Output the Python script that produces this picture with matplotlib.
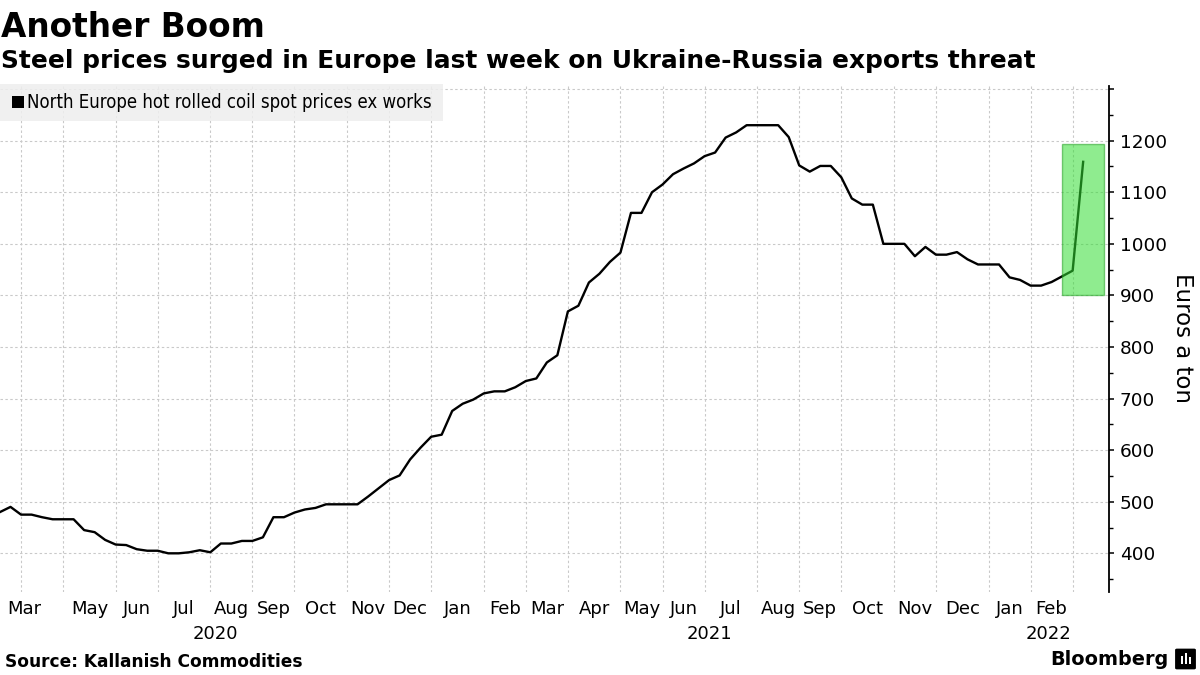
import numpy as np
import pandas as pd
import matplotlib
matplotlib.use("Agg")
import matplotlib.pyplot as plt
import matplotlib.dates as mdates
from matplotlib.patches import Rectangle, FancyBboxPatch
from matplotlib.ticker import FixedLocator, MultipleLocator, FuncFormatter
from matplotlib import font_manager as fm

# ---------------- data ----------------
title = "Another Boom"
subtitle = "Steel prices surged in Europe last week on Ukraine-Russia exports threat"
series_name = "North Europe hot rolled coil spot prices ex works"
y_label = "Euros a ton"
source = "Source: Kallanish Commodities"
brand = "Bloomberg"

first_date = "2020-03-20"     # weekly (Friday) observations
prices = [
    480, 490, 475, 475, 470, 466, 466, 466, 445, 441,
    426, 417, 416, 408, 405, 405, 400, 400, 402, 406,
    402, 419, 419, 424, 424, 431, 470, 470, 479, 485,
    488, 495, 495, 495, 495, 510, 526, 542, 551, 582,
    605, 626, 630, 676, 690, 698, 710, 714, 714, 722,
    734, 739, 770, 784, 869, 880, 925, 942, 965, 983,
    1060, 1060, 1100, 1115, 1135, 1146, 1156, 1170, 1177, 1206,
    1216, 1230, 1230, 1230, 1230, 1207, 1152, 1140, 1151, 1151,
    1129, 1088, 1076, 1076, 1000, 1000, 1000, 976, 994, 979,
    979, 984, 970, 960, 960, 960, 935, 930, 919, 919,
    926, 937, 948, 1159,
]
y_ticks = [400, 500, 600, 700, 800, 900, 1000, 1100, 1200, 1300]
y_labelled = [400, 500, 600, 700, 800, 900, 1000, 1100, 1200]
y_range = (325, 1306)
x_end = "2022-03-28"

highlight_start = "2022-02-25"
highlight_end = "2022-03-25"
highlight_low = 900
highlight_high = 1194

# ---------------- figure ----------------
W, H = 1200, 675
fig = plt.figure(figsize=(W / 100, H / 100), dpi=100)
fig.patch.set_facecolor("white")

def fx(px):
    return px / W

def fy(py):
    return 1 - py / H

avail = {(f.name, f.stretch) for f in fm.fontManager.ttflist}
names = {n for n, _ in avail}
if "Liberation Sans Narrow" in names:
    narrow_kw = dict(family="Liberation Sans Narrow")
elif any(n == "DejaVu Sans" and str(st) in ("condensed", "semi-condensed") for n, st in avail):
    narrow_kw = dict(family="DejaVu Sans", fontstretch="condensed")
else:
    narrow_kw = dict(family="DejaVu Sans")

ax_left, ax_right, ax_top, ax_bottom = 0, 1109, 86, 592
ax = fig.add_axes([fx(ax_left), fy(ax_bottom), fx(ax_right - ax_left), (ax_bottom - ax_top) / H])

dates = pd.date_range(first_date, periods=len(prices), freq="7D")
s = pd.Series(prices, index=dates)

ax.plot(dates, s.values, color="black", lw=1.7, zorder=3)

xl = mdates.date2num(pd.Timestamp(first_date))
xr = mdates.date2num(pd.Timestamp(x_end)) + 0.2
ax.set_xlim(xl, xr)
ax.set_ylim(*y_range)

# gridline positions: first observation of each month
firsts = [g.index[0] for _, g in s.groupby([s.index.year, s.index.month]) if g.index[0].day <= 7]
ax.xaxis.set_major_locator(FixedLocator(mdates.date2num(firsts)))
ax.yaxis.set_major_locator(FixedLocator(y_ticks))
ax.yaxis.set_minor_locator(MultipleLocator(50))
ax.yaxis.set_major_formatter(FuncFormatter(lambda v, p: f"{int(v)}" if int(v) in y_labelled else ""))

ax.grid(True, which="major", color="#c9c9c9", linestyle=(0, (2.2, 2.2)), linewidth=0.8, zorder=0)
ax.tick_params(axis="x", which="both", length=0, labelbottom=False)
ax.yaxis.tick_right()
ax.tick_params(axis="y", which="major", direction="out", length=3.8, width=1.1, pad=4,
               labelsize=13.3, colors="black")
ax.tick_params(axis="y", which="minor", direction="out", length=3.0, width=1.0)
for side in ("top", "bottom", "left"):
    ax.spines[side].set_visible(False)
ax.spines["right"].set_linewidth(1.3)

# highlight box
hx0 = mdates.date2num(pd.Timestamp(highlight_start))
hx1 = mdates.date2num(pd.Timestamp(highlight_end))
ax.add_patch(Rectangle((hx0, highlight_low), hx1 - hx0, highlight_high - highlight_low,
                       facecolor="#33dd33", edgecolor="#1f9f1f", alpha=0.55, lw=1.0, zorder=4))

# month labels
month_y = -(609 - ax_bottom)
year_y = -(634 - ax_bottom)
ax.annotate(pd.Timestamp(first_date).strftime("%b"), xy=(xl, 0), xycoords=("data", "axes fraction"),
            xytext=(7, month_y), textcoords="offset pixels", ha="left", va="center",
            fontsize=13, annotation_clip=False)
for k in range(1, len(firsts) - 1):
    mid = mdates.date2num(firsts[k]) + (mdates.date2num(firsts[k + 1]) - mdates.date2num(firsts[k])) / 2
    ax.annotate(firsts[k].strftime("%b"), xy=(mid, 0), xycoords=("data", "axes fraction"),
                xytext=(0, month_y), textcoords="offset pixels", ha="center", va="center",
                fontsize=13, annotation_clip=False)

jan = [mdates.date2num(f) for f in firsts if f.month == 1]
bounds = [xl] + jan + [xr]
years = [pd.Timestamp(first_date).year + i for i in range(len(bounds) - 1)]
for i, yr in enumerate(years):
    mid = (bounds[i] + bounds[i + 1]) / 2
    ax.annotate(str(yr), xy=(mid, 0), xycoords=("data", "axes fraction"),
                xytext=(0, year_y), textcoords="offset pixels", ha="center", va="center",
                fontsize=13, annotation_clip=False)

# y label
fig.text(fx(1183), fy(338), y_label, rotation=270, ha="center", va="center", fontsize=16.5)

# legend box
fig.add_artist(Rectangle((fx(0), fy(121)), fx(443), 37 / H, transform=fig.transFigure,
                         facecolor="#eeeeee", edgecolor="none", alpha=0.85, zorder=5))
fig.add_artist(Rectangle((fx(11.5), fy(108)), fx(12), 12 / H, transform=fig.transFigure,
                         facecolor="black", edgecolor="none", zorder=6))
leg = fig.text(fx(27.5), fy(102), series_name, ha="left", va="center",
               fontsize=13, zorder=6, **narrow_kw)

# titles
t1 = fig.text(fx(1), fy(37), title, ha="left", va="baseline", fontsize=23.5, fontweight="bold")
t2 = fig.text(fx(1), fy(68), subtitle, ha="left", va="baseline", fontsize=16.8, fontweight="bold")
t3 = fig.text(fx(5), fy(667), source, ha="left", va="baseline", fontsize=11.5, fontweight="bold")
t4 = fig.text(fx(1168), fy(665), brand, ha="right", va="baseline", fontsize=13.8, fontweight="bold")

# fit text widths to reference
renderer = fig.canvas.get_renderer()
for t, target in ((t1, 264), (t2, 1034), (t3, 298), (leg, 405), (t4, 118)):
    w = t.get_window_extent(renderer).width
    t.set_fontsize(t.get_fontsize() * target / w)

# logo
fig.add_artist(FancyBboxPatch((fx(1177), fy(668)), fx(17), 18 / H, boxstyle="round,pad=0.001",
                              transform=fig.transFigure, facecolor="black", edgecolor="black", zorder=6))
for bx, bh in ((1181, 8), (1185, 11), (1189, 7)):
    fig.add_artist(Rectangle((fx(bx), fy(664)), fx(2), bh / H, transform=fig.transFigure,
                             facecolor="white", edgecolor="none", zorder=7))

fig.savefig("out.png", dpi=100)
